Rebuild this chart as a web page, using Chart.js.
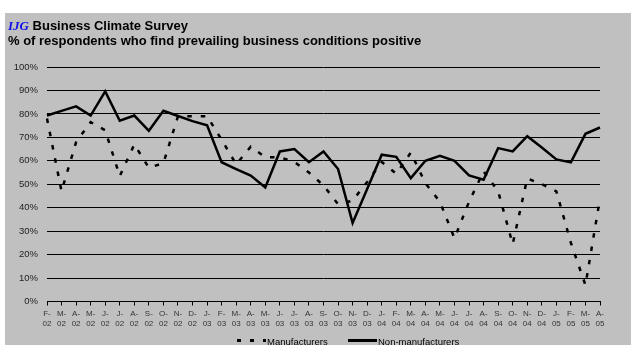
<!DOCTYPE html>
<html>
<head>
<meta charset="utf-8">
<script src="https://cdn.jsdelivr.net/npm/chart.js@4.4.0/dist/chart.umd.min.js"></script>
<style>
  html, body { margin: 0; padding: 0; background: #fff; overflow: hidden; }
  #frame { position: absolute; left: 5px; top: 13px; width: 626px; height: 332px; background: #c0c0c0; }
  #myChart { position: absolute; left: 0; top: 0; }
  .txt { position: absolute; font-family: Arial, "Liberation Sans", sans-serif; white-space: nowrap; color: #000; }
  .head { left: 8px; font-weight: bold; font-size: 13px; line-height: 15px; }
  .brand { font-family: "Times New Roman", "Liberation Serif", serif; font-style: italic; color: #1010e8; font-size: 13px; }
  .lbl { font-size: 9.5px; line-height: 10px; }
  .swatch { position: absolute; height: 2.5px; width: 29px; }
  .dash { background: repeating-linear-gradient(to right, #000 0 4px, transparent 4px 13px); }
  .solid { background: #000; }
</style>
</head>
<body>
<div id="frame"></div>
<canvas id="myChart" width="631" height="345"></canvas>
<div class="txt head" style="top:18px"><span class="brand">IJG</span> Business Climate Survey</div>
<div class="txt head" style="top:33px">% of respondents who find prevailing business conditions positive</div>
<div class="swatch dash" style="left:237px; top:339px"></div>
<div class="txt lbl" style="left:267px; top:337px">Manufacturers</div>
<div class="swatch solid" style="left:348px; top:339px"></div>
<div class="txt lbl" style="left:378px; top:337px">Non-manufacturers</div>
<script>
// month initials and years, Feb 2002 - Apr 2005
var months = ['F-', 'M-', 'A-', 'M-', 'J-', 'J-', 'A-', 'S-', 'O-', 'N-', 'D-',
    'J-', 'F-', 'M-', 'A-', 'M-', 'J-', 'J-', 'A-', 'S-', 'O-', 'N-', 'D-',
    'J-', 'F-', 'M-', 'A-', 'M-', 'J-', 'J-', 'A-', 'S-', 'O-', 'N-', 'D-',
    'J-', 'F-', 'M-', 'A-'];
var years = ['02', '02', '02', '02', '02', '02', '02', '02', '02', '02', '02',
    '03', '03', '03', '03', '03', '03', '03', '03', '03', '03', '03', '03',
    '04', '04', '04', '04', '04', '04', '04', '04', '04', '04', '04', '04',
    '05', '05', '05', '05'];

var manufacturers = [78, 47, 68, 76.5, 73, 53.5, 67, 57, 59, 79, 79,
    79, 69, 58.5, 66, 61.5, 61.5, 59.5, 55, 49.5, 41.5, 43, 51,
    59.5, 54.5, 63.5, 50.5, 42.5, 27, 42.5, 55.5, 47, 24.5, 52.5, 50,
    47, 25, 7, 44];
var nonManufacturers = [79.3, 81.3, 83.2, 79.3, 89.6, 77.1, 79.3, 72.8, 81.3, 79.1, 76.9,
    75.1, 59.4, 56.5, 53.7, 48.6, 64, 65, 59.4, 64, 56.5, 33.5, 48,
    62.6, 61.7, 52.6, 60, 62.1, 60, 53.8, 51.9, 65.4, 64, 70.5, 65.7,
    60.6, 59.3, 71.5, 74.2];

var yTicks = [0, 10, 20, 30, 40, 50, 60, 70, 80, 90, 100];

var labels = months.map(function (m, i) { return [m, years[i]]; });
var font = 'Arial, "Liberation Sans", sans-serif';

var ctx = document.getElementById('myChart').getContext('2d');

var chart = new Chart(ctx, {
    type: 'line',
    data: {
        labels: labels,
        datasets: [{
            label: 'Manufacturers',
            data: manufacturers,
            borderColor: '#000',
            borderWidth: 2.5,
            borderDash: [4.5, 9],
            pointRadius: 0,
            tension: 0
        }, {
            label: 'Non-manufacturers',
            data: nonManufacturers,
            borderColor: '#000',
            borderWidth: 2.5,
            pointRadius: 0,
            tension: 0
        }]
    },
    options: {
        responsive: false,
        animation: false,
        layout: { padding: { top: 67, right: 31, bottom: 13.5, left: 0 } },
        plugins: {
            legend: { display: false },
            tooltip: { enabled: false }
        },
        scales: {
            x: {
                offset: false,
                grid: { drawOnChartArea: false, drawTicks: true, tickLength: 4, color: '#000' },
                border: { display: true, color: '#000', width: 1 },
                ticks: {
                    autoSkip: false, maxRotation: 0, minRotation: 0, padding: 3,
                    color: '#333', font: { family: font, size: 8, lineHeight: 1.25 }
                },
                afterFit: function (s) { s.height = 30; }
            },
            y: {
                min: 0,
                max: 100,
                afterBuildTicks: function (s) { s.ticks = yTicks.map(function (v) { return { value: v }; }); },
                grid: { color: '#000', drawTicks: false },
                border: { display: false },
                ticks: {
                    padding: 9, color: '#222', font: { family: font, size: 9.5 },
                    callback: function (v) { return v + '%'; }
                },
                afterFit: function (s) { s.width = 47; }
            }
        }
    }
});
</script>
</body>
</html>
